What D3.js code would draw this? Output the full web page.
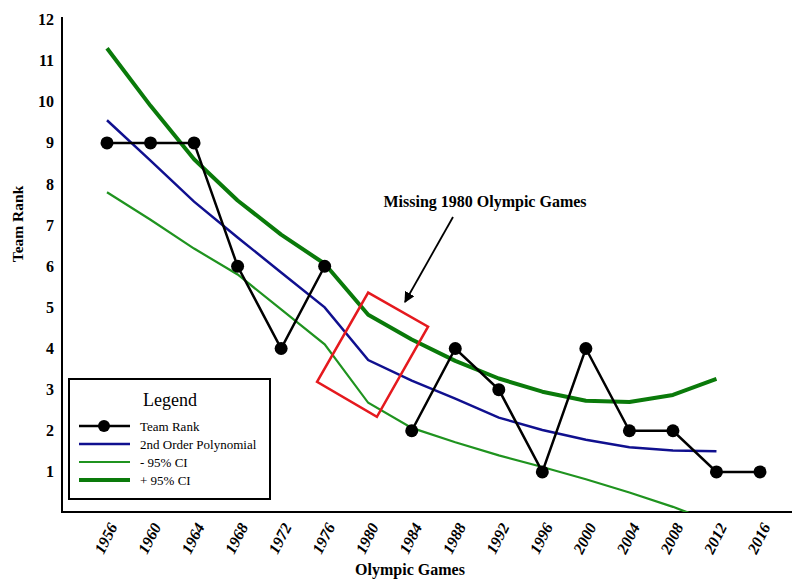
<!DOCTYPE html>
<html lang="en">
<head>
<meta charset="utf-8">
<script src="https://d3js.org/d3.v7.min.js"></script>
<style>
  body { margin: 0; background: #fff; }
  text { font-family: "Liberation Serif", "Times New Roman", serif; }
</style>
</head>
<body>
<script>
// data
const years = [1956, 1960, 1964, 1968, 1972, 1976, 1980, 1984, 1988, 1992, 1996, 2000, 2004, 2008, 2012, 2016];
const teamRank = [9, 9, 9, 6, 4, 6, null, 2, 4, 3, 1, 4, 2, 2, 1, 1];
const fitYears = [1956, 1960, 1964, 1968, 1972, 1976, 1980, 1984, 1988, 1992, 1996, 2000, 2004, 2008, 2012];
const poly = [9.55, 8.57, 7.57, 6.7, 5.85, 5.0, 3.72, 3.22, 2.78, 2.32, 2.02, 1.78, 1.6, 1.52, 1.5];
const upperCI = [11.3, 9.9, 8.6, 7.6, 6.77, 6.06, 4.82, 4.22, 3.7, 3.27, 2.95, 2.73, 2.7, 2.87, 3.26];
const lowerCI = [7.8, 7.13, 6.43, 5.8, 4.95, 4.1, 2.68, 2.07, 1.72, 1.4, 1.12, 0.82, 0.5, 0.15, -0.25];
const yTicks = [1, 2, 3, 4, 5, 6, 7, 8, 9, 10, 11, 12];
// red box around the gap, corners in (year, rank)
const gapBox = [[1980, 5.36], [1985.5, 4.53], [1980.8, 2.34], [1975.3, 3.19]];
const legendItems = [
  { label: "Team Rank", color: "#000", width: 2.5, dot: true },
  { label: "2nd Order Polynomial", color: "#10108f", width: 2.5 },
  { label: "- 95% CI", color: "#1f931f", width: 2.2 },
  { label: "+ 95% CI", color: "#0a7a0a", width: 4 }
];

const W = 792, H = 580;
const svg = d3.select("body").append("svg")
  .attr("width", W).attr("height", H);

const x = d3.scaleLinear().domain([1956, 2016]).range([107, 760]);
const y = d3.scaleLinear().domain([0, 12]).range([513, 19.5]);

svg.append("defs").append("clipPath").attr("id", "plot")
  .append("rect").attr("x", 62).attr("y", 10).attr("width", 730).attr("height", 502);

// axes lines
svg.append("line").attr("x1", 62).attr("x2", 62).attr("y1", 17).attr("y2", 513)
  .attr("stroke", "#000").attr("stroke-width", 2);
svg.append("line").attr("x1", 61).attr("x2", 792).attr("y1", 512).attr("y2", 512)
  .attr("stroke", "#000").attr("stroke-width", 2);

// y tick labels
svg.append("g").selectAll("text").data(yTicks).enter().append("text")
  .attr("x", 54).attr("y", d => y(d)).attr("dy", "0.35em")
  .attr("text-anchor", "end").attr("font-size", 16).attr("font-weight", "bold")
  .text(d => d);

// x tick labels, rotated
svg.append("g").selectAll("text").data(years).enter().append("text")
  .attr("transform", d => `translate(${x(d) + 6},${524}) rotate(-63)`)
  .attr("text-anchor", "end").attr("dy", "0.35em")
  .attr("font-size", 16).attr("font-weight", "bold").attr("font-style", "italic")
  .text(d => d);

// axis titles
svg.append("text").attr("x", 410).attr("y", 575).attr("text-anchor", "middle")
  .attr("font-size", 16).attr("font-weight", "bold").text("Olympic Games");
svg.append("text").attr("transform", "translate(23,224) rotate(-90)")
  .attr("text-anchor", "middle").attr("font-size", 15.5).attr("font-weight", "bold")
  .text("Team Rank");

const plot = svg.append("g").attr("clip-path", "url(#plot)");

function series(xs, vs) { return xs.map((d, i) => ({ x: d, v: vs[i] })); }
const line = d3.line().defined(d => d.v != null).x(d => x(d.x)).y(d => y(d.v));

plot.append("path").datum(series(fitYears, lowerCI))
  .attr("fill", "none").attr("stroke", legendItems[2].color).attr("stroke-width", 2.2).attr("d", line);
plot.append("path").datum(series(fitYears, poly))
  .attr("fill", "none").attr("stroke", legendItems[1].color).attr("stroke-width", 2.5).attr("d", line);
plot.append("path").datum(series(fitYears, upperCI))
  .attr("fill", "none").attr("stroke", legendItems[3].color).attr("stroke-width", 4)
  .attr("stroke-linejoin", "round").attr("d", line);

const rank = series(years, teamRank);
plot.append("path").datum(rank)
  .attr("fill", "none").attr("stroke", "#000").attr("stroke-width", 2.5).attr("d", line);
plot.selectAll("circle").data(rank.filter(d => d.v != null)).enter().append("circle")
  .attr("cx", d => x(d.x)).attr("cy", d => y(d.v)).attr("r", 6.5).attr("fill", "#000");

// red box marking the missing games
svg.append("path")
  .attr("d", d3.line().x(d => x(d[0])).y(d => y(d[1])).curve(d3.curveLinearClosed)(gapBox))
  .attr("fill", "none").attr("stroke", "#e5191e").attr("stroke-width", 2.5);

// annotation
svg.append("text").attr("x", 485).attr("y", 207).attr("text-anchor", "middle")
  .attr("font-size", 16).attr("font-weight", "bold").text("Missing 1980 Olympic Games");
svg.select("defs").append("marker").attr("id", "arrow")
  .attr("viewBox", "0 0 10 10").attr("refX", 9).attr("refY", 5)
  .attr("markerWidth", 6).attr("markerHeight", 6).attr("orient", "auto")
  .append("path").attr("d", "M0,0 L10,5 L0,10 z").attr("fill", "#000");
svg.append("line").attr("x1", 453).attr("y1", 217).attr("x2", 405).attr("y2", 302)
  .attr("stroke", "#000").attr("stroke-width", 1.8).attr("marker-end", "url(#arrow)");

// legend
const lg = svg.append("g").attr("transform", "translate(69,379)");
lg.append("rect").attr("width", 201).attr("height", 120)
  .attr("fill", "#fff").attr("stroke", "#000").attr("stroke-width", 2);
lg.append("text").attr("x", 101).attr("y", 27).attr("text-anchor", "middle")
  .attr("font-size", 18).text("Legend");
const rows = lg.selectAll("g.row").data(legendItems).enter().append("g")
  .attr("transform", (d, i) => `translate(0,${47 + i * 18})`);
rows.append("line").attr("x1", 10).attr("x2", 61)
  .attr("stroke", d => d.color).attr("stroke-width", d => d.width);
rows.filter(d => d.dot).append("circle").attr("cx", 35).attr("r", 6).attr("fill", "#000");
rows.append("text").attr("x", 71).attr("dy", "0.35em").attr("font-size", 13)
  .text(d => d.label);
</script>
</body>
</html>
